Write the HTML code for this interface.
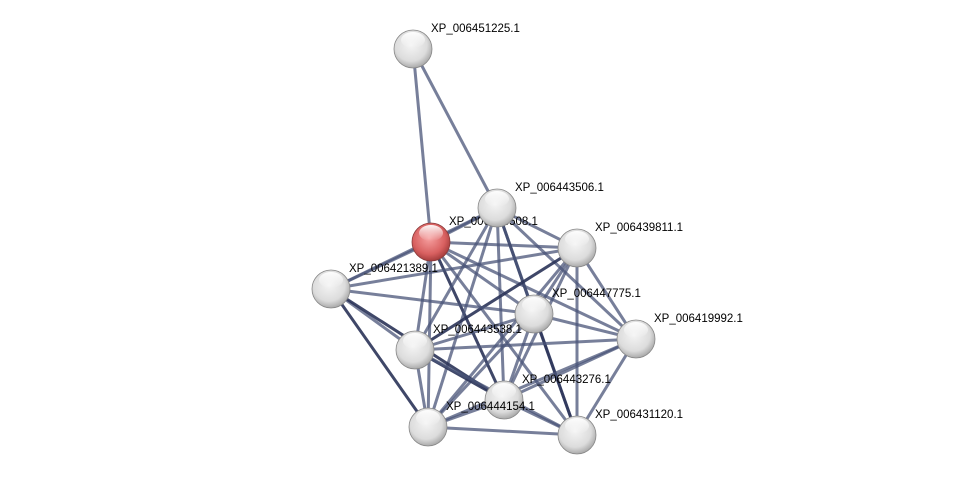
<!DOCTYPE html>
<html><head><meta charset="utf-8"><style>
html,body{margin:0;padding:0;background:#fff;width:975px;height:480px;overflow:hidden}
text{font-family:"Liberation Sans",sans-serif;font-size:11.5px;fill:#000}
</style></head><body>
<svg width="975" height="480" xmlns="http://www.w3.org/2000/svg">
<defs>
<radialGradient id="g" cx="0.45" cy="0.4" r="0.7">
<stop offset="0" stop-color="#f4f4f4"/><stop offset="0.6" stop-color="#dcdcdc"/><stop offset="1" stop-color="#8e8e8e"/>
</radialGradient>
<radialGradient id="r" cx="0.45" cy="0.4" r="0.7">
<stop offset="0" stop-color="#f6a0a0"/><stop offset="0.6" stop-color="#d86060"/><stop offset="1" stop-color="#8a2a2a"/>
</radialGradient>
<linearGradient id="hl" x1="0" y1="0" x2="0" y2="1">
<stop offset="0" stop-color="#fff" stop-opacity="0.95"/><stop offset="1" stop-color="#fff" stop-opacity="0"/>
</linearGradient>
</defs>
<g stroke="#4a5478" stroke-width="3" stroke-opacity="0.75" stroke-linecap="round" id="edges"></g>
<g id="labels0"></g>
<g id="nodes"></g>
<g id="labels"></g>
<script>
var N={A:[413,49,"XP_006451225.1"],B:[497,208,"XP_006443506.1"],C:[431,242,"XP_006443508.1"],D:[577,248,"XP_006439811.1"],E:[331,289,"XP_006421389.1"],F:[534,314,"XP_006447775.1"],G:[636,339,"XP_006419992.1"],H:[415,350,"XP_006443538.1"],I:[504,400,"XP_006443276.1"],J:[428,427,"XP_006444154.1"],K:[577,435,"XP_006431120.1"]};
var E="AC AB CB CD CE CF CH CI CJ CK CG BD BE BF BH BI BJ BK BG DE DF DH DI DJ DK DG EF EH EI EJ FG FH FI FJ FK GH GI GK GJ HI HJ HK IJ IK JK".split(" ");
var dark={BF:1,CI:1,FK:1,EI:1,DH:1,HI:1,EJ:1};
var ns="http://www.w3.org/2000/svg",eg=document.getElementById("edges"),lg=document.getElementById("labels"),lg0=document.getElementById("labels0"),ng=document.getElementById("nodes");
E.forEach(function(e){var a=N[e[0]],b=N[e[1]],l=document.createElementNS(ns,"line");l.setAttribute("x1",a[0]);l.setAttribute("y1",a[1]);l.setAttribute("x2",b[0]);l.setAttribute("y2",b[1]);if(dark[e]){l.setAttribute("stroke","#2a3358");l.setAttribute("stroke-opacity","0.9");}eg.appendChild(l);});
for(var k in N){var n=N[k];var t=document.createElementNS(ns,"text");t.setAttribute("x",n[0]+18);t.setAttribute("y",n[1]-17);t.textContent=n[2];(k=="C"?lg0:lg).appendChild(t);
var c=document.createElementNS(ns,"circle");c.setAttribute("cx",n[0]);c.setAttribute("cy",n[1]);c.setAttribute("r",19);c.setAttribute("fill",k=="C"?"url(#r)":"url(#g)");c.setAttribute("stroke",k=="C"?"#8a3a3a":"#888");c.setAttribute("stroke-width","0.8");ng.appendChild(c);
var h=document.createElementNS(ns,"ellipse");h.setAttribute("cx",n[0]);h.setAttribute("cy",n[1]-9);h.setAttribute("rx",12);h.setAttribute("ry",8);h.setAttribute("fill","url(#hl)");ng.appendChild(h);}
</script>
</svg>
</body></html>
